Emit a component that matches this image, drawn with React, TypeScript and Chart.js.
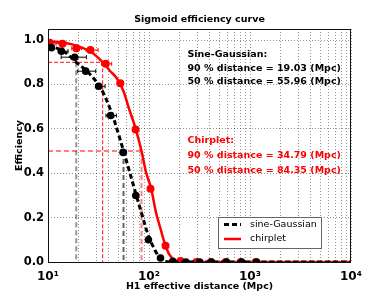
import React, { useEffect, useRef } from 'react';
import { Chart, registerables } from 'chart.js';

Chart.register(...registerables);

// ---- data ----
const SG_CURVE_X = [10, 14, 19.03, 24, 29.2, 35, 42.8, 50, 55.96, 62.4, 72.6, 85, 98.5, 115, 130, 145, 170, 300, 1000, 10000];
const SG_CURVE_Y = [0.975, 0.952, 0.9, 0.862, 0.82, 0.765, 0.67, 0.575, 0.5, 0.426, 0.322, 0.215, 0.12, 0.052, 0.015, 0.002, 0, 0, 0, 0];

const CH_CURVE_X = [10, 15, 20, 27, 34.79, 41, 48, 55.7, 63, 72.7, 84.35, 94, 104.5, 117, 130, 144, 160, 180, 203, 250, 1000, 10000];
const CH_CURVE_Y = [0.995, 0.987, 0.972, 0.945, 0.9, 0.862, 0.828, 0.772, 0.695, 0.61, 0.5, 0.4, 0.335, 0.225, 0.15, 0.08, 0.032, 0.008, 0.001, 0, 0, 0];

const SG_X = [10.8, 13.6, 18.4, 23.6, 31.8, 41.7, 55.4, 74, 98.7, 130, 172, 232, 318, 415, 585, 825, 1160];
const SG_Y = [0.966, 0.95, 0.923, 0.86, 0.792, 0.66, 0.494, 0.3, 0.1, 0.018, 0.003, 0, 0, 0, 0, 0, 0];
const SG_XLO = [10.3, 12.6, 13.5, 19.7, 29.5, 37.5, 52, 71, 96, 126, 172, 232, 318, 415, 585, 825, 1160];
const SG_XHI = [11.4, 15.8, 24, 29.7, 36.7, 47.5, 60, 77, 102, 134, 172, 232, 318, 415, 585, 825, 1160];

const CH_X = [10.4, 13.9, 19.1, 26.3, 37.3, 52, 73.6, 103.5, 145.7, 205, 295, 410, 575, 810, 1140];
const CH_Y = [0.988, 0.984, 0.963, 0.955, 0.893, 0.805, 0.597, 0.33, 0.073, 0.005, 0, 0, 0, 0, 0];
const CH_XLO = [10, 12, 17.2, 23.8, 33.9, 48.5, 70.5, 99, 140, 205, 295, 410, 575, 810, 1140];
const CH_XHI = [11.7, 15, 21.5, 31.3, 42.7, 56, 77, 108, 152, 205, 295, 410, 575, 810, 1140];

const SG_D90 = 19.03;
const SG_D50 = 55.96;
const CH_D90 = 34.79;
const CH_D50 = 84.35;

const Y_TICKS = [0, 0.2, 0.4, 0.6, 0.8, 1.0];
const X_DECADES = [10, 100, 1000, 10000];
const X_TICK_LABELS = ['10\u00b9', '10\u00b2', '10\u00b3', '10\u2074'];

const TITLE = 'Sigmoid efficiency curve';
const X_TITLE = 'H1 effective distance (Mpc)';
const Y_TITLE = 'Efficiency';
const SG_NAME = 'sine-Gaussian';
const CH_NAME = 'chirplet';
const SG_TEXT = ['Sine-Gaussian:', '90 % distance = 19.03 (Mpc)', '50 % distance = 55.96 (Mpc)'];
const CH_TEXT = ['Chirplet:', '90 % distance = 34.79 (Mpc)', '50 % distance = 84.35 (Mpc)'];

const FONT = '"DejaVu Sans", sans-serif';

function zip(xs: number[], ys: number[]) {
  return xs.map((x, i) => ({ x, y: ys[i] }));
}

const overlay = {
  id: 'overlay',
  beforeDatasetsDraw(chart: any) {
    const { ctx, chartArea: a, scales } = chart;
    const sx = scales.x, sy = scales.y;
    ctx.save();
    ctx.beginPath();
    ctx.rect(a.left, a.top, a.right - a.left, a.bottom - a.top);
    ctx.clip();
    const seg = (x1: number, y1: number, x2: number, y2: number, color: string, w: number, dash: number[]) => {
      ctx.beginPath();
      ctx.strokeStyle = color;
      ctx.lineWidth = w;
      ctx.setLineDash(dash);
      ctx.moveTo(x1, y1);
      ctx.lineTo(x2, y2);
      ctx.stroke();
    };
    const vLine = (d: number, eff: number, color: string, w: number, dash: number[]) => {
      const px = sx.getPixelForValue(d);
      seg(px, sy.getPixelForValue(eff), px, a.bottom, color, w, dash);
    };
    const hLine = (d: number, eff: number, color: string, w: number, dash: number[]) => {
      const py = sy.getPixelForValue(eff);
      seg(a.left, py, sx.getPixelForValue(d), py, color, w, dash);
    };
    vLine(SG_D90, 0.9, 'rgba(0,0,0,0.42)', 2, [5, 3]);
    vLine(SG_D50, 0.5, 'rgba(0,0,0,0.6)', 2, [5, 3]);
    hLine(CH_D90, 0.9, 'rgba(255,0,0,0.95)', 1, [4, 2]);
    vLine(CH_D90, 0.9, 'rgba(255,0,0,0.95)', 1, [4, 2]);
    hLine(CH_D50, 0.5, 'rgba(255,0,0,0.5)', 2, [5, 3]);
    vLine(CH_D50, 0.5, 'rgba(255,0,0,0.5)', 2, [5, 3]);

    // horizontal error bars
    const bars = (xs: number[], ys: number[], lo: number[], hi: number[], color: string) => {
      ctx.setLineDash([]);
      ctx.strokeStyle = color;
      ctx.lineWidth = 1;
      xs.forEach((_, i) => {
        if (hi[i] <= lo[i]) return;
        const py = sy.getPixelForValue(ys[i]);
        const p1 = sx.getPixelForValue(lo[i]);
        const p2 = sx.getPixelForValue(hi[i]);
        ctx.beginPath();
        ctx.moveTo(p1, py);
        ctx.lineTo(p2, py);
        ctx.moveTo(p1, py - 2);
        ctx.lineTo(p1, py + 2);
        ctx.moveTo(p2, py - 2);
        ctx.lineTo(p2, py + 2);
        ctx.stroke();
      });
    };
    bars(SG_X, SG_Y, SG_XLO, SG_XHI, '#000');
    bars(CH_X, CH_Y, CH_XLO, CH_XHI, '#ff0000');
    ctx.restore();
  },
  afterDraw(chart: any) {
    const { ctx, chartArea: a } = chart;
    ctx.save();
    ctx.setLineDash([]);
    // frame
    ctx.strokeStyle = '#111';
    ctx.lineWidth = 1;
    ctx.strokeRect(Math.round(a.left) + 0.5, Math.round(a.top) + 0.5, Math.round(a.right - a.left) - 1, Math.round(a.bottom - a.top));

    ctx.fillStyle = '#000';
    ctx.textBaseline = 'middle';
    ctx.font = `bold 9.5px ${FONT}`;
    ctx.textAlign = 'center';
    ctx.fillText(TITLE, (a.left + a.right) / 2, 20);
    ctx.fillText(X_TITLE, (a.left + a.right) / 2, 286.5);
    ctx.save();
    ctx.translate(20, (a.top + a.bottom) / 2);
    ctx.rotate(-Math.PI / 2);
    ctx.fillText(Y_TITLE, 0, 0);
    ctx.restore();

    // annotations
    ctx.textAlign = 'left';
    const tx = 187.5;
    SG_TEXT.forEach((t, i) => ctx.fillText(t, tx, 54.5 + i * 13.7));
    ctx.fillStyle = '#ff0000';
    CH_TEXT.forEach((t, i) => ctx.fillText(t, tx, 141 + i * 14.8));

    // legend
    const lx = 218, ly = 217, lw = 103, lh = 31;
    ctx.fillStyle = '#fff';
    ctx.fillRect(lx, ly, lw, lh);
    ctx.strokeStyle = '#666';
    ctx.lineWidth = 1;
    ctx.strokeRect(lx + 0.5, ly + 0.5, lw, lh);
    ctx.beginPath();
    ctx.strokeStyle = '#000';
    ctx.lineWidth = 3;
    ctx.setLineDash([5, 3]);
    ctx.moveTo(224, 224.5);
    ctx.lineTo(241, 224.5);
    ctx.stroke();
    ctx.beginPath();
    ctx.strokeStyle = '#ff0000';
    ctx.lineWidth = 2.5;
    ctx.setLineDash([]);
    ctx.moveTo(224, 239);
    ctx.lineTo(241, 239);
    ctx.stroke();
    ctx.fillStyle = '#000';
    ctx.font = `9.5px ${FONT}`;
    ctx.fillText(SG_NAME, 250, 224.5);
    ctx.fillText(CH_NAME, 250, 239);
    ctx.restore();
  },
};

export default function App() {
  const ref = useRef<HTMLCanvasElement | null>(null);
  useEffect(() => {
    if (!ref.current) return;
    const logTicks: number[] = [];
    for (let e = 0; e < X_DECADES.length - 1; e++) {
      for (let m = 1; m < 10; m++) logTicks.push(X_DECADES[e] * m);
    }
    logTicks.push(X_DECADES[X_DECADES.length - 1]);

    const chart = new Chart(ref.current, {
      type: 'line',
      data: {
        datasets: [
          {
            label: SG_NAME,
            data: zip(SG_CURVE_X, SG_CURVE_Y),
            borderColor: '#000',
            borderWidth: 3,
            borderDash: [5, 3],
            pointRadius: 0,
            tension: 0.35,
            fill: false,
          },
          {
            label: 'sg points',
            data: zip(SG_X, SG_Y),
            showLine: false,
            pointRadius: 3.8,
            pointBackgroundColor: '#000',
            pointBorderColor: '#000',
            pointBorderWidth: 0,
          },
          {
            label: CH_NAME,
            data: zip(CH_CURVE_X, CH_CURVE_Y),
            borderColor: '#ff0000',
            borderWidth: 2.5,
            pointRadius: 0,
            tension: 0.35,
            fill: false,
          },
          {
            label: 'ch points',
            data: zip(CH_X, CH_Y),
            showLine: false,
            pointRadius: 4,
            pointBackgroundColor: '#ff0000',
            pointBorderColor: '#ff0000',
            pointBorderWidth: 0,
          },
        ],
      } as any,
      options: {
        responsive: false,
        animation: false,
        devicePixelRatio: 1,
        layout: { padding: { top: 29, right: 39, left: 0, bottom: 0 } },
        plugins: { legend: { display: false }, title: { display: false }, tooltip: { enabled: false } },
        scales: {
          x: {
            type: 'logarithmic',
            min: 10,
            max: 10000,
            afterFit: (s: any) => { s.height = 31; },
            afterBuildTicks: (s: any) => { s.ticks = logTicks.map((v) => ({ value: v })); },
            grid: { color: 'rgba(0,0,0,0.42)', lineWidth: 1, drawTicks: false },
            border: { display: false, dash: [1, 2] },
            ticks: {
              autoSkip: false,
              maxRotation: 0,
              padding: 8,
              color: '#000',
              font: { family: FONT, size: 12, weight: 'bold' },
              callback: (v: any) => {
                const i = X_DECADES.indexOf(Number(v));
                return i >= 0 ? X_TICK_LABELS[i] : '';
              },
            },
          },
          y: {
            min: 0,
            max: 1.05,
            afterFit: (s: any) => { s.width = 48; },
            afterBuildTicks: (s: any) => { s.ticks = Y_TICKS.map((v) => ({ value: v })); },
            grid: { color: 'rgba(0,0,0,0.42)', lineWidth: 1, drawTicks: false },
            border: { display: false, dash: [1, 2] },
            ticks: {
              padding: 4,
              color: '#000',
              font: { family: FONT, size: 11.5, weight: 'bold' },
              callback: (v: any) => Number(v).toFixed(1),
            },
          },
        },
      } as any,
      plugins: [overlay],
    });
    return () => chart.destroy();
  }, []);

  return (
    <div style={{ position: 'fixed', left: 0, top: 0, width: 390, height: 293, background: '#fff' }}>
      <canvas ref={ref} width={390} height={293} style={{ width: 390, height: 293, display: 'block' }} />
    </div>
  );
}
